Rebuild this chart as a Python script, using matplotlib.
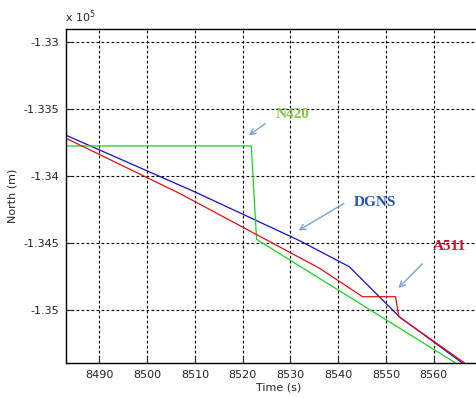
import numpy as np
from matplotlib import pyplot as plt

# north in metres
dgns_t = [8482.9, 8509.9, 8531.9, 8542.3, 8552.8, 8566.0, 8569.0]
dgns_n = [-133695.5, -134118, -134483, -134677, -135050, -135395, -135610]

a511_t = [8482.9, 8506.75, 8536.1, 8545.1, 8552.0, 8552.7, 8566.4, 8569.0]
a511_n = [-133718, -134130, -134689, -134901, -134901, -135050, -135393, -135590]

n420_t = [8482.9, 8521.8, 8522.9, 8564.5, 8568.0]
n420_n = [-133777, -133777, -134473, -135393, -135610]

x_ticks = [8490, 8500, 8510, 8520, 8530, 8540, 8550, 8560]
y_ticks = [-1.35, -1.345, -1.34, -1.335, -1.33]
y_tick_labels = ["-1.35", "-1.345", "-1.34", "-1.335", "-1.33"]

fig = plt.figure(figsize=(4.77, 3.99), dpi=100)
ax = fig.add_axes([66/477, 36.3/399, 425/477, 333.7/399])

ax.plot(dgns_t, np.array(dgns_n)/1e5, color="#1010c8", lw=0.9)
ax.plot(n420_t, np.array(n420_n)/1e5, color="#20d020", lw=0.9)
ax.plot(a511_t, np.array(a511_n)/1e5, color="#e01010", lw=0.9)

ax.set_xlim(8483, 8572)
ax.set_ylim(-1.35393, -1.32905)
ax.set_xticks(x_ticks)
ax.set_yticks(y_ticks)
ax.set_yticklabels(y_tick_labels)
ax.tick_params(direction="in", length=4, labelsize=8, colors="#222222", pad=5)
for s in ax.spines.values():
    s.set_linewidth(1.0)
ax.grid(True, color="black", linestyle=(0, (2.5, 2)), linewidth=0.8)

ax.set_xlabel("Time (s)", fontsize=8, color="#222222", labelpad=2)
ax.set_ylabel("North (m)", fontsize=8, color="#222222", labelpad=4)
fig.text(65/477, 1 - 17/399, r"x 10$^5$", fontsize=8, color="#222222", va="center")

# arrows pointing at each curve
arrow = dict(arrowstyle="->", color="#7f9fd0", lw=1.0)
ax.annotate("", xy=(8520.8, -1.33710), xytext=(8525.2, -1.33599), arrowprops=arrow)
ax.annotate("", xy=(8531.2, -1.34418), xytext=(8541.7, -1.34195), arrowprops=arrow)
ax.annotate("", xy=(8552.2, -1.34851), xytext=(8558.0, -1.34642), arrowprops=arrow)

txt = dict(fontsize=11, fontweight="bold", family="Liberation Serif", ha="center", va="center")
ax.text(8530.4, -1.33539, "N420", color="#8ac24a", **txt)
ax.text(8547.8, -1.34202, "DGNS", color="#1f55b0", **txt)
ax.text(8563.3, -1.34523, "A511", color="#c8102e", **txt)

plt.savefig("out.png", dpi=100)
